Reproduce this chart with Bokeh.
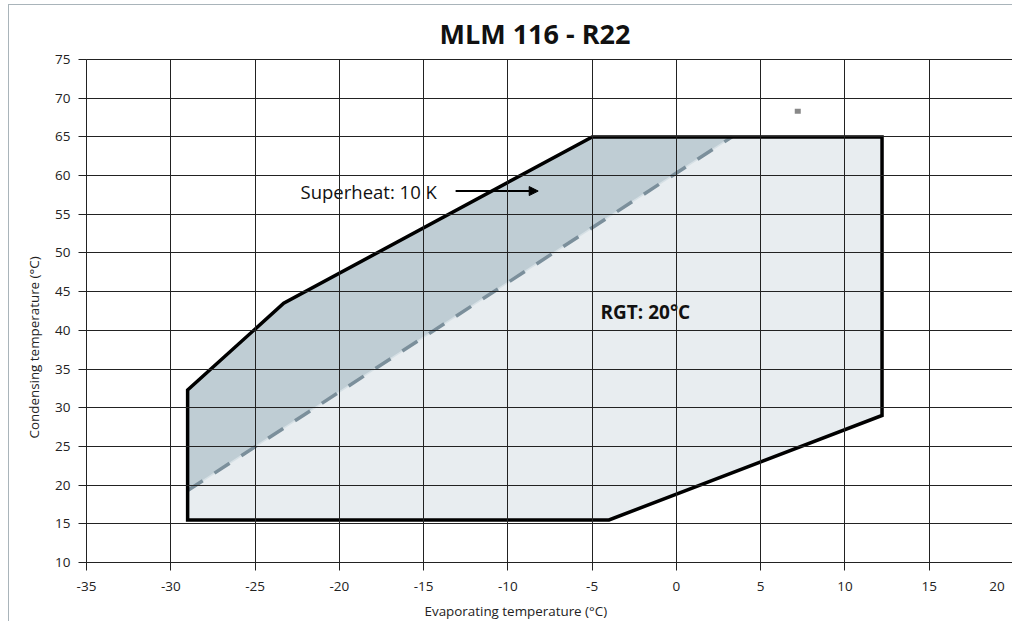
from bokeh.plotting import figure
from bokeh.models import FixedTicker, Label, Arrow, NormalHead, CustomJSTickFormatter, Title
from bokeh.embed import file_html
from bokeh.resources import INLINE

# Envelope (outer boundary), RGT 20 °C
env_x = [-29, -29, -23.3, -5, 12.2, 12.2, -4, -29]
env_y = [15.5, 32.3, 43.5, 65, 65, 29, 15.5, 15.5]

# Superheat 10 K region (upper-left part)
sh_x = [-29, -29, -23.3, -5, 3.3]
sh_y = [19.3, 32.3, 43.5, 65, 65]

# Dashed boundary of superheat region
dash_x = [-29, 3.3]
dash_y = [19.3, 65]

# Small marker
mark_x = [7.2]
mark_y = [68.3]

x_ticks = list(range(-35, 21, 5))
y_ticks = list(range(10, 76, 5))

FONT = "Open Sans"

p = figure(width=1004, height=617, x_range=(-35, 20), y_range=(10, 75),
           output_backend="svg", toolbar_location=None,
           min_border_left=77, min_border_right=0, min_border_top=53, min_border_bottom=60)
p.styles = {"margin-left": "8px", "margin-top": "4px",
            "border-top": "1px solid #a9b4ba", "border-left": "1px solid #a9b4ba"}

p.title.text = "MLM 116 - R22"
p.title.align = "left"
p.title.offset = 353
p.title.text_font = FONT
p.title.text_font_size = "27px"
p.title.text_font_style = "bold"
p.title.text_color = "#111111"
p.title.standoff = 15

p.xaxis.ticker = FixedTicker(ticks=x_ticks)
p.yaxis.ticker = FixedTicker(ticks=y_ticks)
p.xaxis.formatter = CustomJSTickFormatter(code="return tick == 20 ? '20\u2007' : String(tick);")
p.yaxis.formatter = CustomJSTickFormatter(code="return String(tick);")
for ax in (p.xaxis, p.yaxis):
    ax.major_label_text_font = FONT
    ax.major_label_text_font_size = "13.5px"
    ax.major_label_text_color = "#222222"
    ax.axis_line_color = "#222222"
    ax.major_tick_line_color = "#222222"
    ax.major_tick_out = 8
    ax.major_tick_in = 0
    ax.minor_tick_line_color = None
p.xaxis.major_label_standoff = 6
p.yaxis.major_label_standoff = 8

# axis titles (positioned off-centre as in the reference)
p.add_layout(Title(text="Evaporating temperature (°C)", align="left", offset=338,
                   standoff=4, text_font=FONT, text_font_size="13.4px",
                   text_font_style="normal", text_color="#222222"), "below")
p.add_layout(Title(text="Condensing temperature (°C)", align="left", offset=124,
                   standoff=19, text_font=FONT, text_font_size="13.4px",
                   text_font_style="normal", text_color="#222222"), "left")

p.xgrid.ticker = FixedTicker(ticks=x_ticks)
p.ygrid.ticker = FixedTicker(ticks=y_ticks)
p.grid.grid_line_color = "#222222"
p.grid.grid_line_alpha = 1.0
p.grid.grid_line_width = 1
p.outline_line_color = "#222222"
p.grid.level = "overlay"

# fills
p.patch(env_x, env_y, fill_color="#e8edf0", line_color=None)
p.patch(sh_x, sh_y, fill_color="#bfcdd4", line_color=None)

# boundary lines
p.line(dash_x, dash_y, line_color="#d6e0e5", line_width=1.5)
p.line(dash_x, dash_y, line_color="#7b8f9b", line_width=3.5, line_dash="18 14")
p.line(env_x, env_y, line_color="#000000", line_width=3.5, line_join="miter",
       line_cap="square")

p.rect(mark_x, mark_y, width=6, height=5, width_units="screen", height_units="screen",
       fill_color="#888888", line_color=None)

p.add_layout(Label(x=-22.3, y=58, text="Superheat: 10 K", text_font=FONT,
                   text_font_size="18.5px", text_color="#111111", text_baseline="middle"))
p.add_layout(Arrow(x_start=-13.1, y_start=58, x_end=-8.2, y_end=58, line_width=2,
                   line_color="#000000",
                   end=NormalHead(size=9, fill_color="#000000", line_color="#000000")))
p.add_layout(Label(x=-4.5, y=42.4, text="RGT: 20°C", text_font=FONT,
                   text_font_size="19px", text_font_style="bold", text_color="#111111",
                   text_baseline="middle"))

open("out.html", "w").write(file_html(p, INLINE))
